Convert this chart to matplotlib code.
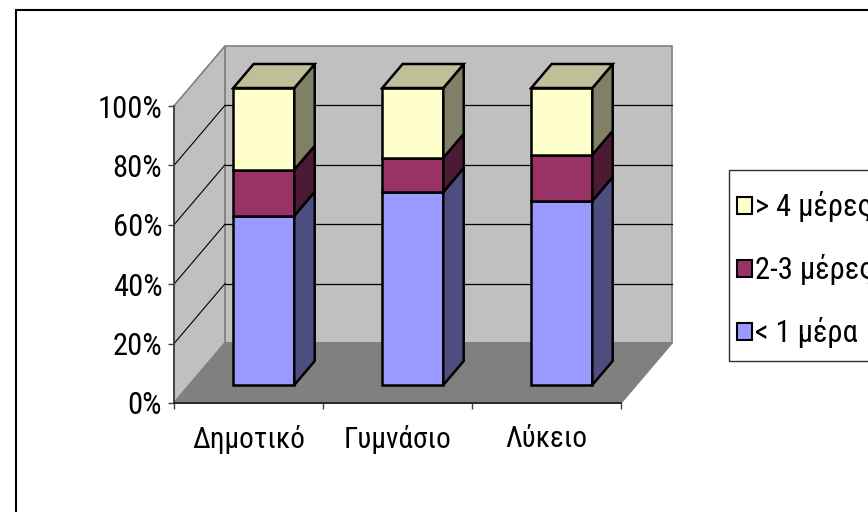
import matplotlib
matplotlib.use("Agg")
import matplotlib.pyplot as plt
from matplotlib.patches import Polygon, Rectangle, Patch
from matplotlib.ticker import PercentFormatter

# data (share of pupils, %)
categories = ["Δημοτικό", "Γυμνάσιο", "Λύκειο"]
series_names = ["< 1 μέρα", "2-3 μέρες", "> 4 μέρες"]
less_1_day = [57, 65, 62]
days_2_3 = [15.5, 11.5, 15.5]
more_4_days = [27.5, 23.5, 22.5]
series = [less_1_day, days_2_3, more_4_days]

front_colors = ["#9999FF", "#993366", "#FFFFCC"]
side_colors = ["#4D4D80", "#4D1A33", "#808066"]
top_color = "#BFBF99"

plt.rcParams["font.family"] = ["Roboto Condensed", "DejaVu Sans"]

fig = plt.figure(figsize=(8.68, 5.12), dpi=100)
ax = fig.add_axes([174 / 868, 1 - 403 / 512, 447 / 868, 297 / 512])
ax.set_xlim(0, len(categories))
ax.set_ylim(0, 100)
ax.patch.set_visible(False)

# oblique depth offset (full depth) in data units
DX, DY = 0.342, 20.2


def pt(x, y, d):
    return (x + DX * d, y + DY * d)


n = len(categories)
wall = dict(clip_on=False, lw=1.2, edgecolor="#808080")
ax.add_patch(Polygon([pt(0, 0, 1), pt(n, 0, 1), pt(n, 100, 1), pt(0, 100, 1)],
                     facecolor="#C0C0C0", zorder=0, **wall))
ax.add_patch(Polygon([pt(0, 0, 0), pt(0, 100, 0), pt(0, 100, 1), pt(0, 0, 1)],
                     facecolor="#C0C0C0", zorder=0, **wall))
ax.add_patch(Polygon([pt(0, 0, 0), pt(n, 0, 0), pt(n, 0, 1), pt(0, 0, 1)],
                     facecolor="#808080", zorder=0.5, **wall))

for p in range(20, 100, 20):
    a, b = pt(0, p, 1), pt(n, p, 1)
    ax.plot([a[0], b[0]], [a[1], b[1]], color="black", lw=0.9, clip_on=False, zorder=0.6)
    ax.plot([0, a[0]], [p, a[1]], color="black", lw=0.8, clip_on=False, zorder=0.6)

# bars
d0, d1 = 0.3, 0.7
half = 0.205
edge = dict(edgecolor="black", lw=1.8, joinstyle="miter", clip_on=False, zorder=3)
for i in range(n):
    x0, x1 = i + 0.5 - half, i + 0.5 + half
    bottom = 0
    for vals, fc, sc in zip(series, front_colors, side_colors):
        top = bottom + vals[i]
        ax.add_patch(Polygon([pt(x0, bottom, d0), pt(x1, bottom, d0),
                              pt(x1, top, d0), pt(x0, top, d0)], facecolor=fc, **edge))
        ax.add_patch(Polygon([pt(x1, bottom, d0), pt(x1, bottom, d1),
                              pt(x1, top, d1), pt(x1, top, d0)], facecolor=sc, **edge))
        bottom = top
    ax.add_patch(Polygon([pt(x0, bottom, d0), pt(x1, bottom, d0),
                          pt(x1, bottom, d1), pt(x0, bottom, d1)], facecolor=top_color, **edge))

# axes
for s in ["top", "right"]:
    ax.spines[s].set_visible(False)
ax.spines["left"].set_color("#404040")
ax.spines["bottom"].set_color("#202020")
ax.spines["left"].set_linewidth(1.3)
ax.spines["bottom"].set_linewidth(1.3)

ax.set_yticks(range(0, 101, 20))
ax.yaxis.set_major_formatter(PercentFormatter(decimals=0))
ax.tick_params(axis="y", direction="out", length=4.5, width=1, color="#404040",
               labelsize=22, pad=4)

ax.set_xticks(range(n + 1))
ax.set_xticklabels([])
ax.set_xticks([i + 0.5 for i in range(n)], minor=True)
ax.set_xticklabels(categories, minor=True)
ax.tick_params(axis="x", which="major", direction="out", length=4.5, width=1, color="#404040")
ax.tick_params(axis="x", which="minor", length=0, labelsize=21, pad=16)

# legend
handles = [Patch(facecolor=c, edgecolor="black", lw=1.5) for c in front_colors[::-1]]
fig.legend(handles, series_names[::-1], loc="upper left",
           bbox_to_anchor=(737 / 868, 1 - 191 / 512), frameon=False, fontsize=22,
           handlelength=0.48, handleheight=0.48, handletextpad=0.12,
           labelspacing=1.05, borderpad=0, borderaxespad=0)
fig.add_artist(Rectangle((729 / 868, 1 - 361 / 512), 0.3, 191 / 512, transform=fig.transFigure,
                         fill=False, edgecolor="#303030", lw=1))

# outer chart frame
fig.add_artist(Rectangle((15.5 / 868, -0.1), 1.0, 1.1 - 9.5 / 512, transform=fig.transFigure,
                         fill=False, edgecolor="black", lw=1.5))

fig.savefig("out.png", dpi=100)
